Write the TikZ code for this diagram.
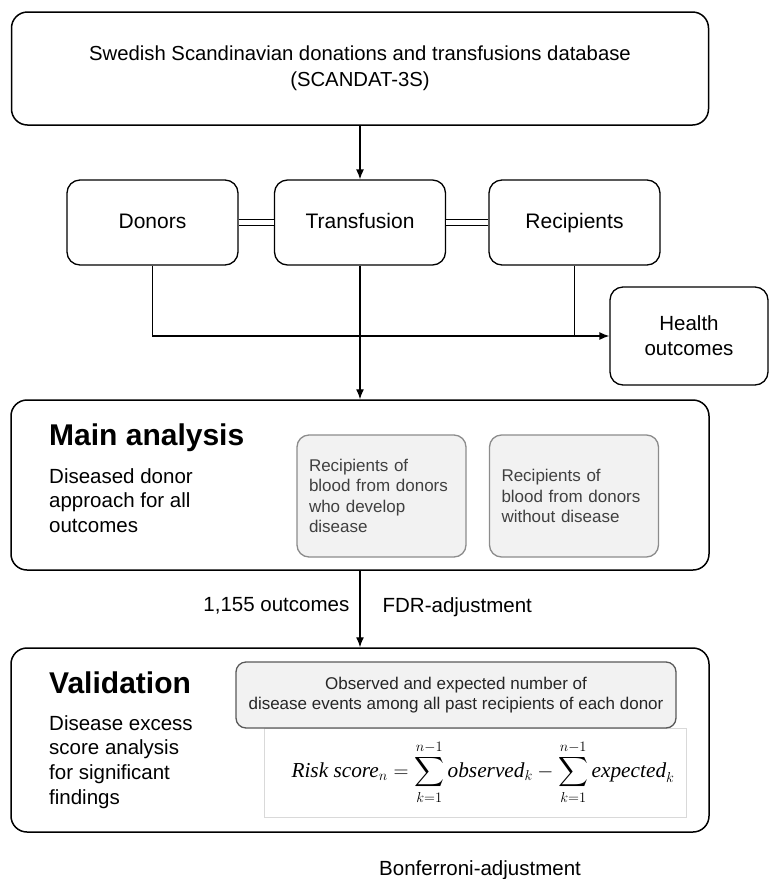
\documentclass[tikz,border=0pt]{standalone}
\usepackage[no-math]{fontspec}
\usepackage{exscale}
\setmainfont{Liberation Sans}
\newfontfamily\formfont{Liberation Serif}
\usetikzlibrary{arrows.meta}
\definecolor{panelfill}{HTML}{F2F2F2}
\definecolor{panelline}{HTML}{8C8C8C}
\definecolor{paneldark}{HTML}{595959}
\definecolor{paneltext}{HTML}{404040}
\definecolor{formulaline}{HTML}{D9D9D9}
\newcommand\pxfont[2]{\fontsize{#1}{#2}\selectfont}
\newcommand\fword[1]{\mbox{\formfont\itshape #1}}
\begin{document}
\begin{tikzpicture}[x=1pt,y=-1pt,
  bigbox/.style={draw=black, line width=1.5pt, rounded corners=16pt, inner sep=0pt},
  rowbox/.style={draw=black, line width=1.3pt, rounded corners=13pt, inner sep=0pt,
    minimum width=171pt, minimum height=85pt, font=\pxfont{21}{25}},
  rowtext/.style={text height=15pt, text depth=4pt},
  subbox/.style={draw=panelline, fill=panelfill, line width=1.3pt, rounded corners=12pt,
    minimum width=169pt, minimum height=122pt, inner xsep=12pt, inner ysep=0pt,
    text width=145pt, align=left, text=paneltext, font=\pxfont{17}{20.5}},
  heading/.style={anchor=base west, inner sep=0pt, font=\pxfont{30}{34}\bfseries},
  body/.style={anchor=north west, inner sep=0pt, align=left, font=\pxfont{20.5}{24.8}},
  label/.style={inner sep=0pt, font=\pxfont{20.5}{24}},
  arr/.style={line width=1.3pt, -{Latex[length=10pt,width=8pt]}},
  link/.style={line width=1.3pt}
]
\useasboundingbox (0,0) rectangle (770,879);

% source database
\node[bigbox, minimum width=697pt, minimum height=113pt, align=center,
  font=\pxfont{20.3}{26}] (db) at (360,68.5)
  {Swedish Scandinavian donations and transfusions database\\(SCANDAT-3S)};

% donor / transfusion / recipient row
\node[rowbox, rowtext] (don) at (152.5,222.5) {Donors};
\node[rowbox, rowtext] (tra) at (360,222.5) {Transfusion};
\node[rowbox, rowtext] (rec) at (574.5,222.5) {Recipients};
\node[rowbox, minimum width=158pt, minimum height=98pt, align=center,
  font=\pxfont{20.5}{25}] (health) at (689,336) {Health\\outcomes};

\draw[arr] (db.south) -- (tra.north);
\draw[link, double, double distance=4.5pt, line width=1.1pt] (don.east) -- (tra.west);
\draw[link, double, double distance=4.5pt, line width=1.1pt] (tra.east) -- (rec.west);

\coordinate (join) at (rec.south |- health.west);
\draw[arr] (don.south) |- (health.west);
\draw[link] (rec.south) -- (join);

% main analysis
\node[bigbox, minimum width=698pt, minimum height=170pt] (main) at (360,485) {};
\node[heading] (mainhead) at (49,445) {Main analysis};
\node[body] (maintext) at (49,468) {Diseased donor\\approach for all\\outcomes};
\node[subbox] (sick) at (381.5,496)
  {Recipients of\\blood from donors\\who develop\\disease};
\node[subbox] (well) at (574,496)
  {Recipients of\\blood from donors\\without disease};

\draw[arr] (tra.south) -- (main.north);

% validation
\node[bigbox, minimum width=698pt, minimum height=184pt] (val) at (360,740) {};
\node[heading] (valhead) at (49,693) {Validation};
\node[body] (valtext) at (49,715) {Disease excess\\score analysis\\for significant\\findings};
\node[draw=formulaline, line width=0.8pt, fill=white, minimum width=422pt,
  minimum height=89pt, inner sep=0pt] (formula) at (475,772.5)
  {\pxfont{21.3}{25}\hspace*{16pt}$\displaystyle \fword{Risk score}_n=\sum_{k=1}^{n-1}\fword{observed}_k-\sum_{k=1}^{n-1}\fword{expected}_k$};
\node[draw=paneldark, fill=panelfill, line width=1.3pt, rounded corners=10pt,
  minimum width=440pt, minimum height=66pt, inner sep=0pt, align=center,
  text=black!85, font=\pxfont{17}{20.5}] (events) at (456,695)
  {Observed and expected number of\\disease events among all past recipients of each donor};

\draw[arr] (main.south) --
  node[label, pos=0.46, anchor=east, xshift=-10pt] (nout) {1,155 outcomes}
  node[label, pos=0.48, anchor=west, xshift=22pt] (fdr) {FDR-adjustment}
  (val.north);

\node[label, anchor=base west] (bonf) at (379,875) {Bonferroni-adjustment};
\end{tikzpicture}
\end{document}
